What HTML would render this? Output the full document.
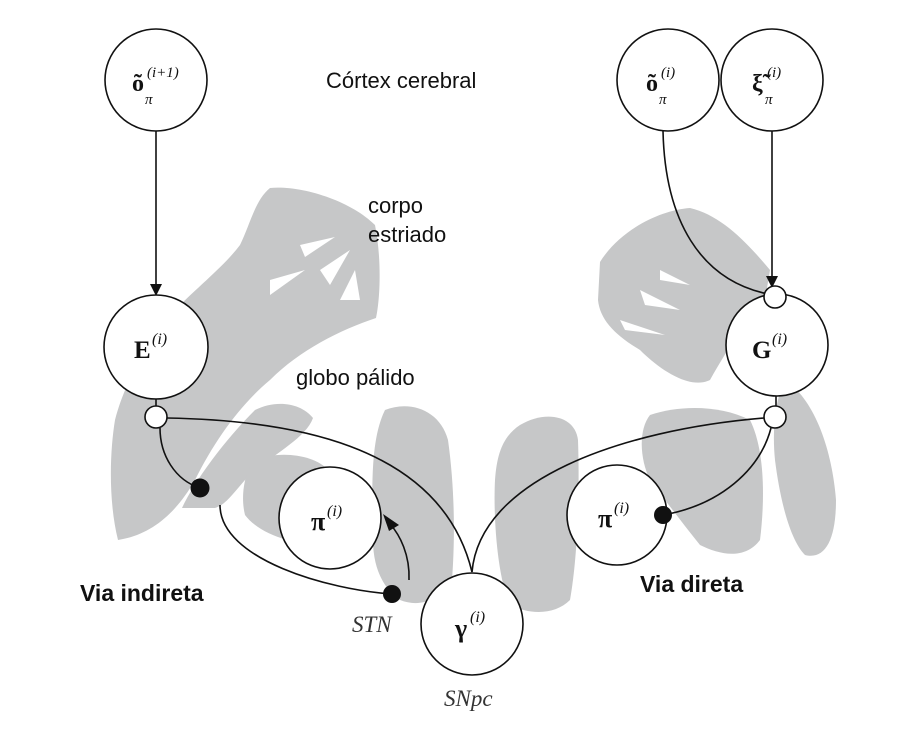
<!DOCTYPE html>
<html><head><meta charset="utf-8"><style>
html,body{margin:0;padding:0;background:#fff;width:898px;height:742px;overflow:hidden}
svg{display:block}
.s{font-family:"Liberation Sans",sans-serif;font-size:22px;fill:#111}
.m{font-family:"Liberation Serif",serif;fill:#111}
</style></head><body>
<svg width="898" height="742" viewBox="0 0 898 742" xmlns="http://www.w3.org/2000/svg">
<g fill="#c6c7c8" stroke="none">
<path d="M270,188 C300,185 350,200 375,225 C382,260 380,300 376,318 C340,330 300,350 270,380 C240,405 215,440 195,480 C175,515 150,535 118,540 C108,500 110,450 115,420 C125,380 150,340 175,310 C200,285 225,265 240,245 C250,225 255,200 270,188 Z"/>
<path d="M182,508 C195,480 225,440 255,410 C275,400 300,402 313,418 C305,440 270,455 245,480 C232,495 225,505 215,508 Z"/>
<path d="M255,460 C280,450 315,455 328,470 L325,545 C295,545 260,535 245,515 C240,495 245,470 255,460 Z"/>
<path d="M385,410 C410,400 440,410 448,440 C455,490 455,540 452,580 C440,600 420,608 400,600 C385,590 373,570 373,540 C372,490 370,440 385,410 Z"/>
<path d="M520,425 C545,410 575,415 578,440 C580,500 577,560 570,600 C555,615 530,615 510,605 C498,580 493,520 495,480 C497,450 505,435 520,425 Z"/>
<path d="M600,262 C620,230 660,210 690,208 C720,215 745,240 770,270 L765,300 C740,330 730,345 710,380 C690,390 660,370 640,350 C615,335 600,320 598,300 Z"/>
<path d="M785,380 C815,400 832,450 836,500 C836,540 825,560 805,555 C790,540 780,500 775,460 C772,430 775,400 785,380 Z"/>
<path d="M650,415 C680,405 720,405 750,420 C765,450 765,500 760,540 C745,560 720,555 700,545 C680,520 665,500 650,480 C640,460 638,430 650,415 Z"/>
</g>
<g fill="#fff">
<path d="M300,245 l35,-8 l-30,20 Z M320,270 l30,-20 l-20,35 Z M340,300 l15,-30 l5,30 Z M270,280 l35,-10 l-35,25 Z"/>
<path d="M620,320 l45,15 l-40,-5 Z M640,290 l40,20 l-35,-5 Z M660,270 l30,15 l-30,-5 Z"/>
</g>
<g fill="none" stroke="#111" stroke-width="1.6">
<line x1="156" y1="131" x2="156" y2="284"/>
<line x1="772" y1="131" x2="772" y2="276"/>
<path d="M663,131 C665,220 700,280 768,294"/>
<line x1="156" y1="399" x2="156" y2="406"/>
<line x1="776" y1="396" x2="776" y2="406"/>
<path d="M167,418 C280,420 440,440 472,572"/>
<path d="M472,572 C480,480 620,430 764,418"/>
<path d="M160,428 C160,455 175,480 200,488"/>
<path d="M220,505 C220,560 330,590 392,594"/>
<path d="M409,580 C410,555 400,535 390,524"/>
<path d="M771,428 C760,470 720,505 663,515"/>
</g>
<g fill="#111">
<polygon points="150,284 162,284 156,296"/>
<polygon points="766,276 778,276 772,288"/>
<path d="M383,514 L399,525 L389,531 Z"/>
</g>
<g fill="#fff" stroke="#111" stroke-width="1.6">
<circle cx="156" cy="80" r="51"/>
<circle cx="668" cy="80" r="51"/>
<circle cx="772" cy="80" r="51"/>
<circle cx="156" cy="347" r="52"/>
<circle cx="777" cy="345" r="51"/>
<circle cx="330" cy="518" r="51"/>
<circle cx="617" cy="515" r="50"/>
<circle cx="472" cy="624" r="51"/>
<circle cx="156" cy="417" r="11"/>
<circle cx="775" cy="297" r="11"/>
<circle cx="775" cy="417" r="11"/>
</g>
<g fill="#111">
<circle cx="200" cy="488" r="9.5"/>
<circle cx="392" cy="594" r="9"/>
<circle cx="663" cy="515" r="9"/>
</g>
<g class="m">
<text x="132" y="91" font-size="24" font-weight="bold">õ</text><text x="147" y="77" font-size="15" font-style="italic">(i+1)</text><text x="145" y="104" font-size="15" font-style="italic">π</text>
<text x="646" y="91" font-size="24" font-weight="bold">õ</text><text x="661" y="77" font-size="15" font-style="italic">(i)</text><text x="659" y="104" font-size="15" font-style="italic">π</text>
<text x="752" y="91" font-size="24" font-weight="bold">ξ̃</text><text x="767" y="77" font-size="15" font-style="italic">(i)</text><text x="765" y="104" font-size="15" font-style="italic">π</text>
<text x="134" y="358" font-size="25" font-weight="bold">E</text><text x="152" y="344" font-size="16" font-style="italic">(i)</text>
<text x="752" y="358" font-size="25" font-weight="bold">G</text><text x="772" y="344" font-size="16" font-style="italic">(i)</text>
<text x="311" y="530" font-size="26" font-weight="bold">π</text><text x="327" y="516" font-size="16" font-style="italic">(i)</text>
<text x="598" y="527" font-size="26" font-weight="bold">π</text><text x="614" y="513" font-size="16" font-style="italic">(i)</text>
<text x="455" y="637" font-size="26" font-weight="bold">γ</text><text x="470" y="622" font-size="16" font-style="italic">(i)</text>
<text x="352" y="632" font-size="23" font-style="italic" fill="#333">STN</text>
<text x="444" y="706" font-size="23" font-style="italic" fill="#333">SNpc</text>
</g>
<g class="s">
<text x="326" y="88">Córtex cerebral</text>
<text x="368" y="213">corpo</text>
<text x="368" y="242">estriado</text>
<text x="296" y="385">globo pálido</text>
<text x="80" y="601" font-weight="bold" font-size="23">Via indireta</text>
<text x="640" y="592" font-weight="bold" font-size="23">Via direta</text>
</g>
</svg>
</body></html>
